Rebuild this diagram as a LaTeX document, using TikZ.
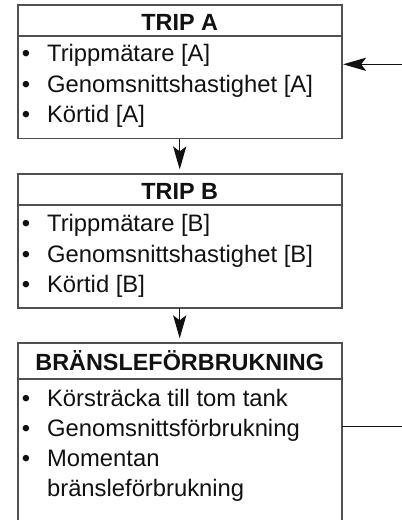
\documentclass[tikz,border=0pt]{standalone}
\usepackage{fontspec}
\setmainfont{Liberation Sans}
\usetikzlibrary{arrows.meta,positioning}
\definecolor{tripInk}{HTML}{111111}
\definecolor{tripFrame}{HTML}{505050}
\tikzset{
  every picture/.style={font=\fontsize{11.9}{14}\selectfont, text=tripInk},
  trip head/.style={draw=tripFrame, line width=0.9pt, inner sep=0pt, outer sep=0pt,
    minimum width=162pt, text height=9.7pt, text depth=0pt,
    font=\fontsize{11.7}{14}\selectfont\bfseries},
  trip body/.style={draw=tripFrame, line width=0.9pt, inner sep=0pt, outer sep=0pt,
    minimum width=162pt, anchor=north},
  trip bullet/.style={anchor=base, inner sep=0pt},
  trip item/.style={anchor=base west, inner sep=0pt},
  trip arrow/.style={-{Stealth[length=11.5pt,width=6.6pt,inset=2.5pt]},
    draw=tripInk, line width=0.55pt, line cap=butt},
  trip line/.style={draw=tripInk, line width=0.55pt}
}

\begin{document}
\begin{tikzpicture}[x=0.5pt,y=-0.5pt]
  \useasboundingbox (0,0) rectangle (402,520);
  \clip (0,0) rectangle (402,520);
  % boxes
  \node[trip head, anchor=north, minimum height=15.65pt] (tripA) at (179.7,4.7) {TRIP A};
  \node[trip body, minimum height=51.25pt] (tripAbody) at (tripA.south) {};
  \node[trip head, anchor=north, minimum height=15.5pt] (tripB) at (179.7,174) {TRIP B};
  \node[trip body, minimum height=51.5pt] (tripBbody) at (tripB.south) {};
  \node[trip head, anchor=north, minimum height=18.15pt] (fuel) at (179.7,342.7) {BRÄNSLEFÖRBRUKNING};
  \node[trip body, minimum height=83pt] (fuelbody) at (fuel.south) {};
  % items
  \foreach \entry [count=\k from 0] in {Trippmätare [A], Genomsnittshastighet [A], Körtid [A]} {
    \node[trip bullet] (dotA\k) at (26,61.7+30.6*\k) {•};
    \node[trip item] (itemA\k) at (46.7,61.7+30.6*\k) {\entry};
  }
  \foreach \entry [count=\k from 0] in {Trippmätare [B], Genomsnittshastighet [B], Körtid [B]} {
    \node[trip bullet] (dotB\k) at (26,231.7+30.6*\k) {•};
    \node[trip item] (itemB\k) at (46.7,231.7+30.6*\k) {\entry};
  }
  \foreach \entry [count=\k from 0] in {Körsträcka till tom tank, Genomsnittsförbrukning, Momentan} {
    \node[trip bullet] (dotC\k) at (26,406.7+30*\k) {•};
    \node[trip item] (itemC\k) at (46.7,406.7+30*\k) {\entry};
  }
  \node[trip item] (itemC3) at (46.7,496.7) {bränsleförbrukning};
  % connectors
  \coordinate (inA) at (402,64.3);
  \coordinate (outC) at (402,426.7);
  \draw[trip arrow, shorten >=2.3pt] (tripAbody.south) -- (tripB.north);
  \draw[trip arrow, shorten >=2.2pt] (tripBbody.south) -- (fuel.north);
  \draw[trip arrow, shorten >=0.7pt] (inA) -- (inA -| tripAbody.east);
  \draw[trip line] (outC -| fuelbody.east) -- (outC);
\end{tikzpicture}
\end{document}
